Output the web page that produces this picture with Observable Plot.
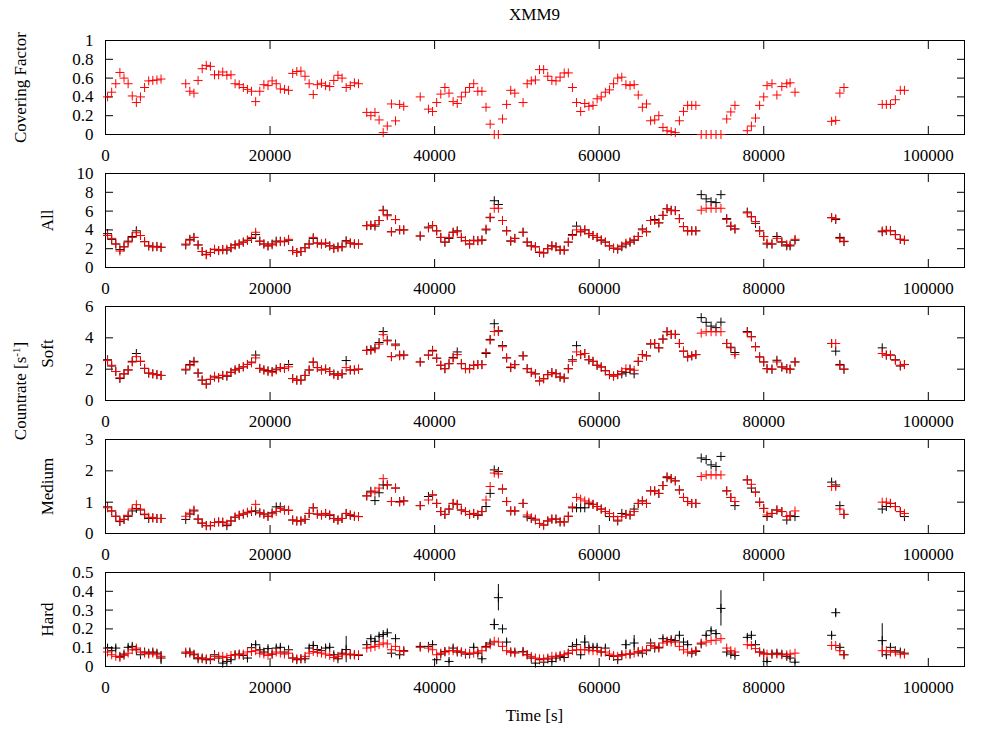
<!DOCTYPE html>
<html><head><meta charset="utf-8">
<script src="https://cdn.jsdelivr.net/npm/d3@7"></script>
<script src="https://cdn.jsdelivr.net/npm/@observablehq/plot@0.6"></script>
<style>
body{margin:0;background:#fff;font-family:"Liberation Serif",serif;color:#000;}
#wrap{position:relative;width:1000px;height:735px;overflow:hidden;}
.lbl{position:absolute;font-size:17px;line-height:17px;white-space:nowrap;}
sup{font-size:11px;vertical-align:6px;line-height:0;}
</style></head>
<body><div id="wrap">
<div class="lbl" style="left:105px;width:859px;top:6px;text-align:center;">XMM9</div>
<div class="lbl" style="left:105px;width:859px;top:707px;text-align:center;">Time [s]</div>
<div class="lbl" style="left:20px;top:391px;transform:translate(-50%,-50%) rotate(-90deg);">Countrate [s<sup>-1</sup>]</div>
</div>
<script>
// ---- data ----
const time = [
 250,750,1250,1750,2250,2750,3250,3750,4250,4750,5250,5750,6250,6750,
 9750,10250,10750,11250,11750,12250,12750,13250,13750,14250,14750,15250,15750,16250,16750,17250,17750,18250,18750,19250,19750,20250,20750,21250,21750,22250,22750,23250,23750,24250,24750,25250,25750,26250,26750,27250,27750,28250,28750,29250,29750,30250,30750,
 31750,32250,32750,33250,33750,34250,34750,35250,35750,36250,
 38250,
 39250,39750,40250,40750,41250,41750,42250,42750,43250,43750,44250,44750,45250,45750,46250,46750,47250,47750,48250,48750,49250,49750,
 50750,51250,51750,52250,52750,53250,53750,54250,54750,55250,55750,56250,56750,57250,57750,58250,58750,59250,59750,60250,60750,61250,61750,62250,62750,63250,63750,64250,64750,65250,65750,66250,66750,67250,67750,68250,68750,69250,69750,70250,70750,71250,71750,
 72400,73000,73600,74200,74800,75500,76000,76500,
 78000,78500,79000,79500,80000,80400,81000,81600,82200,82800,83200,83800,
 88250,88750,89250,89750,
 94400,94900,95400,96000,96600,97100
];
const coverRed = [
 0.40,0.45,0.54,0.66,0.60,0.54,0.41,0.34,0.40,0.50,0.57,0.575,0.58,0.59,
 0.54,0.46,0.44,0.575,0.70,0.735,0.725,0.635,0.635,0.665,0.63,0.635,0.54,0.53,0.50,0.48,0.46,0.35,0.46,0.53,0.52,0.57,0.54,0.485,0.48,0.47,0.65,0.67,0.675,0.62,0.54,0.425,0.53,0.545,0.52,0.51,0.575,0.63,0.60,0.50,0.52,0.55,0.54,
 0.235,0.20,0.235,0.155,0.02,0.09,0.325,0.145,0.32,0.30,
 0.40,
 0.27,0.245,0.34,0.43,0.50,0.44,0.35,0.33,0.40,0.45,0.50,0.54,0.46,0.46,0.29,0.11,0.0,0.0,0.165,0.32,0.47,0.44,
 0.34,0.54,0.57,0.58,0.69,0.69,0.62,0.575,0.57,0.61,0.655,0.655,0.50,0.34,0.245,0.33,0.30,0.31,0.38,0.40,0.45,0.475,0.54,0.60,0.61,0.53,0.52,0.53,0.42,0.29,0.325,0.146,0.155,0.20,0.075,0.04,0.03,0.02,0.146,0.246,0.31,0.31,0.31,
 0,0,0,0,0,0.165,0.24,0.31,
 0.04,0.09,0.175,0.31,0.40,0.52,0.54,0.42,0.51,0.54,0.55,0.45,
 0.14,0.15,0.44,0.50,
 0.32,0.32,0.32,0.37,0.47,0.47
];
const allBlack = [
 3.6,3.0,2.5,1.9,2.2,2.8,3.3,3.9,3.4,2.75,2.3,2.2,2.25,2.15,
 2.4,3.0,3.2,2.4,1.7,1.4,1.6,1.9,1.8,1.9,1.85,2.1,2.4,2.5,2.7,2.9,3.1,3.5,2.8,2.5,2.3,2.5,2.8,2.8,2.75,2.9,1.8,1.6,1.7,2.1,2.5,3.1,2.6,2.5,2.6,2.3,2.05,2.2,2.2,2.85,2.6,2.5,2.5,
 4.45,4.5,4.4,5.0,6.1,5.6,3.8,5.1,4.0,4.0,
 3.35,
 4.3,4.45,3.9,3.2,2.7,3.1,3.75,3.9,3.2,2.85,2.5,2.9,2.85,2.9,4.0,5.3,7.1,6.7,5.0,3.9,2.8,3.1,
 3.75,2.7,2.3,2.2,1.6,1.55,2.0,2.3,2.2,1.85,1.85,2.7,3.5,4.4,3.8,4.0,3.6,3.4,3.2,2.9,2.7,2.3,2.05,1.95,2.2,2.5,2.7,2.9,3.3,4.1,3.8,5.0,5.1,4.75,5.55,6.25,6.1,6.05,5.2,4.35,3.9,3.9,3.9,
 7.75,7.3,7.0,6.9,7.75,5.2,4.4,4.1,
 5.9,5.4,4.7,3.9,3.3,2.5,2.5,3.3,2.7,2.3,2.3,2.9,
 5.3,5.1,3.2,2.75,
 3.8,3.95,3.9,3.5,3.0,2.9
];
const allRed = [
 3.4,3.1,2.5,1.75,2.2,2.7,3.2,3.7,3.4,2.75,2.3,2.2,2.2,2.15,
 2.5,2.9,3.2,2.4,1.7,1.35,1.6,1.95,1.8,1.9,1.95,2.1,2.4,2.5,2.7,2.9,3.2,3.75,2.8,2.5,2.3,2.4,2.7,2.75,2.75,3.0,1.8,1.6,1.7,2.1,2.5,3.2,2.6,2.5,2.55,2.3,2.05,2.1,2.2,2.75,2.6,2.5,2.5,
 4.45,4.5,4.55,5.0,6.05,5.5,3.8,5.1,4.0,4.0,
 3.35,
 4.2,4.45,3.9,3.2,2.7,3.2,3.75,3.8,3.2,2.85,2.5,2.85,2.85,2.95,4.1,5.35,6.3,6.3,5.0,3.9,2.85,3.1,
 3.75,2.7,2.3,2.2,1.65,1.55,2.0,2.3,2.2,1.85,1.85,2.7,3.4,4.0,3.8,4.0,3.6,3.4,3.2,2.95,2.7,2.3,2.05,2.0,2.3,2.6,2.7,2.95,3.3,4.0,3.8,5.0,5.0,4.75,5.55,6.25,6.05,6.05,5.2,4.35,3.9,3.9,3.9,
 6.1,6.3,6.3,6.3,6.3,5.1,4.4,4.1,
 5.8,5.4,4.9,3.9,3.3,2.6,2.5,3.1,2.75,2.45,2.4,3.0,
 5.3,5.2,3.1,2.8,
 3.9,3.95,3.9,3.5,3.0,2.9
];
const softBlack = [
 2.6,2.2,1.85,1.4,1.7,1.95,2.5,3.0,2.5,2.05,1.75,1.7,1.65,1.6,
 1.95,2.3,2.5,1.75,1.3,1.05,1.35,1.5,1.45,1.6,1.55,1.8,1.95,2.05,2.15,2.3,2.45,2.9,2.05,1.95,1.9,1.85,2.0,2.1,2.05,2.3,1.4,1.3,1.3,1.6,1.95,2.45,2.1,1.95,2.0,1.85,1.7,1.6,1.7,2.55,1.95,1.95,2.0,
 3.2,3.25,3.35,3.7,4.4,3.85,2.8,3.6,2.9,2.9,
 2.46,
 2.9,3.2,2.7,2.25,2.03,2.35,2.75,3.1,2.35,2.03,2.03,2.25,2.29,2.29,3.0,3.9,4.9,4.45,3.5,2.72,2.1,2.29,
 2.85,2.03,1.8,1.7,1.25,1.39,1.65,1.78,1.71,1.5,1.43,2.03,2.6,3.5,2.93,3.0,2.6,2.5,2.25,2.14,1.9,1.65,1.56,1.65,1.7,1.8,2.0,1.7,2.5,2.93,2.85,3.6,3.64,3.36,3.92,4.39,4.22,4.22,3.64,3.15,2.78,2.85,2.93,
 5.29,4.99,4.75,4.65,5.0,3.64,3.4,3.06,
 4.4,4.07,3.43,2.78,2.46,2.03,2.0,2.57,2.14,2.03,2.0,2.46,
 3.64,3.15,2.3,2.0,
 3.36,2.9,2.9,2.6,2.2,2.3
];
const softRed = [
 2.55,2.25,1.85,1.45,1.7,1.95,2.45,2.8,2.5,2.05,1.75,1.7,1.65,1.6,
 2.0,2.25,2.45,1.75,1.3,1.05,1.35,1.55,1.45,1.6,1.6,1.8,1.95,2.05,2.15,2.3,2.4,2.72,2.05,1.95,1.85,1.8,1.95,2.1,2.05,2.15,1.4,1.3,1.3,1.6,1.95,2.45,2.1,1.95,2.0,1.85,1.65,1.6,1.7,2.1,1.95,1.95,2.0,
 3.2,3.2,3.3,3.6,4.2,3.8,2.8,3.5,2.85,2.9,
 2.46,
 2.9,3.15,2.7,2.25,2.03,2.35,2.7,2.93,2.35,2.03,2.03,2.25,2.29,2.29,3.06,3.85,4.4,4.4,3.43,2.72,2.14,2.29,
 2.85,2.03,1.8,1.7,1.25,1.39,1.65,1.78,1.71,1.5,1.43,2.03,2.5,3.1,2.93,3.0,2.6,2.5,2.25,2.14,1.9,1.65,1.56,1.65,1.85,2.03,2.0,1.93,2.5,2.93,2.85,3.64,3.64,3.36,3.92,4.39,4.22,4.22,3.64,3.15,2.78,2.85,2.93,
 4.3,4.39,4.39,4.39,4.39,3.64,3.36,2.93,
 4.35,4.07,3.43,2.78,2.46,2.03,2.0,2.46,2.14,2.03,2.0,2.46,
 3.64,3.64,2.25,2.0,
 3.0,2.9,2.9,2.57,2.25,2.29
];
const medBlack = [
 0.85,0.72,0.55,0.38,0.45,0.55,0.72,0.80,0.75,0.60,0.48,0.50,0.48,0.48,
 0.45,0.62,0.72,0.46,0.33,0.25,0.25,0.35,0.37,0.36,0.25,0.40,0.52,0.58,0.62,0.66,0.70,0.72,0.66,0.62,0.55,0.66,0.85,0.85,0.75,0.74,0.43,0.40,0.40,0.45,0.64,0.82,0.62,0.59,0.64,0.58,0.48,0.43,0.48,0.64,0.58,0.55,0.54,
 1.2,1.35,1.05,1.3,1.55,1.55,1.02,1.45,1.02,1.04,
 0.89,
 1.18,1.23,0.96,0.70,0.61,0.78,0.96,0.93,0.75,0.70,0.61,0.64,0.58,0.70,0.86,1.28,2.03,1.98,1.42,1.02,0.72,0.72,
 0.96,0.53,0.48,0.43,0.32,0.27,0.40,0.46,0.46,0.37,0.37,0.55,0.82,0.82,0.82,0.82,0.95,0.93,0.86,0.78,0.70,0.54,0.54,0.40,0.64,0.61,0.59,0.78,0.96,1.04,0.96,1.36,1.36,1.28,1.53,1.78,1.75,1.68,1.39,1.15,1.02,0.96,0.96,
 2.41,2.36,2.19,2.14,2.46,1.36,1.15,0.89,
 1.71,1.45,1.32,1.00,0.80,0.54,0.64,0.75,0.70,0.43,0.57,0.54,
 1.64,1.55,0.89,0.61,
 0.78,0.86,0.96,0.86,0.70,0.54
];
const medRed = [
 0.82,0.72,0.55,0.40,0.45,0.58,0.78,0.92,0.78,0.62,0.52,0.50,0.48,0.48,
 0.55,0.65,0.75,0.46,0.33,0.25,0.25,0.35,0.37,0.36,0.30,0.40,0.52,0.58,0.62,0.68,0.72,0.93,0.66,0.62,0.55,0.63,0.70,0.80,0.75,0.74,0.43,0.40,0.40,0.45,0.64,0.82,0.62,0.59,0.64,0.60,0.48,0.43,0.48,0.64,0.60,0.55,0.54,
 1.2,1.3,1.35,1.45,1.75,1.55,1.02,1.45,1.0,1.04,
 0.89,
 1.07,1.23,0.96,0.70,0.61,0.78,0.96,0.93,0.75,0.70,0.61,0.64,0.61,0.70,1.07,1.50,1.93,1.90,1.42,1.02,0.72,0.72,
 0.96,0.59,0.50,0.46,0.32,0.27,0.40,0.46,0.46,0.37,0.37,0.55,0.85,1.15,1.1,1.04,1.0,0.93,0.86,0.78,0.70,0.64,0.54,0.43,0.54,0.61,0.59,0.70,0.96,1.04,0.96,1.36,1.36,1.28,1.53,1.82,1.75,1.68,1.39,1.15,1.02,0.96,0.96,
 1.82,1.87,1.87,1.87,1.87,1.36,1.15,1.02,
 1.71,1.57,1.32,1.00,0.80,0.59,0.64,0.75,0.70,0.54,0.57,0.72,
 1.5,1.5,0.78,0.61,
 1.0,1.0,0.96,0.86,0.70,0.64
];
const hardBlack = [
 0.098,0.084,0.098,0.054,0.066,0.102,0.107,0.089,0.0625,0.077,0.071,0.077,0.071,0.045,
 0.071,0.077,0.0625,0.041,0.045,0.036,0.036,0.0625,0.045,0.018,0.027,0.036,0.0625,0.066,0.059,0.045,0.100,0.116,0.089,0.077,0.095,0.066,0.098,0.102,0.077,0.089,0.045,0.036,0.041,0.041,0.098,0.112,0.090,0.084,0.098,0.102,0.0625,0.041,0.071,0.09,0.0625,0.0625,0.059,
 0.116,0.148,0.134,0.161,0.170,0.179,0.071,0.148,0.0625,0.084,
 0.107,
 0.107,0.116,0.036,0.066,0.080,0.027,0.098,0.077,0.077,0.066,0.066,0.102,0.071,0.041,0.107,0.125,0.223,0.366,0.20,0.130,0.077,0.077,
 0.08,0.0625,0.045,0.018,0.036,0.023,0.04,0.027,0.045,0.054,0.048,0.071,0.107,0.116,0.0625,0.13,0.10,0.102,0.102,0.077,0.098,0.059,0.054,0.036,0.0625,0.116,0.066,0.125,0.077,0.071,0.084,0.125,0.098,0.102,0.148,0.134,0.143,0.1375,0.166,0.130,0.116,0.071,0.080,
 0.12,0.166,0.19,0.175,0.309,0.077,0.066,0.059,
 0.155,0.166,0.116,0.077,0.071,0.027,0.066,0.071,0.066,0.054,0.045,0.023,
 0.166,0.286,0.102,0.0625,
 0.1375,0.0625,0.102,0.084,0.077,0.071
];
const hardRed = [
 0.077,0.0625,0.054,0.048,0.059,0.071,0.089,0.098,0.077,0.071,0.066,0.071,0.0625,0.054,
 0.077,0.071,0.066,0.048,0.041,0.041,0.041,0.054,0.054,0.054,0.048,0.059,0.0625,0.0625,0.066,0.077,0.080,0.084,0.071,0.066,0.059,0.066,0.077,0.071,0.066,0.071,0.045,0.041,0.041,0.054,0.071,0.080,0.075,0.071,0.066,0.059,0.048,0.054,0.0625,0.066,0.066,0.0625,0.0625,
 0.098,0.102,0.107,0.116,0.125,0.12,0.089,0.107,0.084,0.080,
 0.102,
 0.098,0.089,0.0625,0.071,0.077,0.084,0.084,0.084,0.077,0.071,0.071,0.071,0.077,0.084,0.102,0.116,0.134,0.130,0.107,0.084,0.077,0.071,
 0.077,0.0625,0.054,0.045,0.041,0.041,0.045,0.054,0.054,0.059,0.0625,0.07,0.085,0.089,0.089,0.089,0.087,0.084,0.084,0.077,0.077,0.066,0.059,0.054,0.059,0.066,0.066,0.071,0.080,0.084,0.089,0.112,0.107,0.098,0.125,0.134,0.130,0.130,0.107,0.089,0.077,0.077,0.084,
 0.125,0.13,0.1375,0.14,0.148,0.098,0.084,0.077,
 0.116,0.112,0.095,0.077,0.066,0.066,0.066,0.066,0.0625,0.0625,0.066,0.071,
 0.112,0.112,0.084,0.0625,
 0.084,0.084,0.077,0.077,0.066,0.066
];
// larger error bars of the black hard-band points (others ~0.012)
const hardErrTime = [6750, 29250, 47250, 47750, 57250, 58250, 63250, 64250, 74800, 88750, 94400];
const hardErrSize = [0.035, 0.07, 0.03, 0.07, 0.03, 0.035, 0.025, 0.04, 0.094, 0.02, 0.09];
const hardErrDefault = 0.012;

const xTicks = [0, 20000, 40000, 60000, 80000, 100000];
const yTicksCover = [0, 0.2, 0.4, 0.6, 0.8, 1];
const yTicksAll = [0, 2, 4, 6, 8, 10];
const yTicksSoft = [0, 2, 4, 6];
const yTicksMed = [0, 1, 2, 3];
const yTicksHard = [0, 0.1, 0.2, 0.3, 0.4, 0.5];

// ---- drawing ----
const plusSymbol = {
  draw(ctx, size) {
    const r = Math.sqrt(size / Math.PI);
    ctx.moveTo(-r, 0); ctx.lineTo(r, 0);
    ctx.moveTo(0, -r); ctx.lineTo(0, r);
  }
};
const pts = (vals) => time.map((t, i) => ({t, v: vals[i]})).filter(d => d.v != null);

function panel({domain, ticks, label, labelDx, black, red, err}) {
  const marks = [
    Plot.frame({stroke: "#000", strokeWidth: 1}),
    Plot.axisX({ticks: xTicks, tickSize: -8, tickPadding: 22, tickFormat: d3.format("d"), label: null}),
    Plot.axisX({anchor: "top", ticks: xTicks, tickSize: -8, fill: "none", label: null}),
    Plot.axisY({ticks, tickSize: -8, tickPadding: 20, tickFormat: d => String(d), label: null}),
    Plot.axisY({anchor: "right", ticks, tickSize: -8, fill: "none", label: null}),
    Plot.text([label], {frameAnchor: "left", textAnchor: "middle", lineAnchor: "middle", dx: labelDx, rotate: -90, fontSize: 17})
  ];
  if (err) marks.push(Plot.ruleX(err, {x: "t", y1: "lo", y2: "hi", stroke: "#000", strokeWidth: 1}));
  if (black) marks.push(Plot.dot(pts(black), {x: "t", y: "v", symbol: plusSymbol, r: 4.5, stroke: "#000", fill: "none", strokeWidth: 1}));
  marks.push(Plot.dot(pts(red), {x: "t", y: "v", symbol: plusSymbol, r: 4.5, stroke: "#ff0000", fill: "none", strokeWidth: 1}));
  return Plot.plot({
    width: 1000, height: 143,
    marginLeft: 105, marginRight: 36, marginTop: 10, marginBottom: 39,
    style: {fontFamily: "'Liberation Serif', serif", fontSize: "17px", color: "#000", background: "transparent"},
    x: {domain: [0, 104400]},
    y: {domain},
    marks
  });
}

const hardErr = time.map((t, i) => {
  const j = hardErrTime.indexOf(t);
  const e = j >= 0 ? hardErrSize[j] : hardErrDefault;
  return {t, lo: hardBlack[i] - e, hi: hardBlack[i] + e};
});

const panels = [
  {domain: [0, 1], ticks: yTicksCover, label: "Covering Factor", labelDx: -85, red: coverRed},
  {domain: [0, 10], ticks: yTicksAll, label: "All", labelDx: -58, black: allBlack, red: allRed},
  {domain: [0, 6], ticks: yTicksSoft, label: "Soft", labelDx: -58, black: softBlack, red: softRed},
  {domain: [0, 3], ticks: yTicksMed, label: "Medium", labelDx: -58, black: medBlack, red: medRed},
  {domain: [0, 0.5], ticks: yTicksHard, label: "Hard", labelDx: -58, black: hardBlack, red: hardRed, err: hardErr}
];
const wrap = document.getElementById("wrap");
panels.forEach((p, i) => {
  const svg = panel(p);
  svg.style.position = "absolute";
  svg.style.left = "0px";
  svg.style.top = (30 + 133 * i) + "px";
  wrap.appendChild(svg);
});
</script>
</body></html>
